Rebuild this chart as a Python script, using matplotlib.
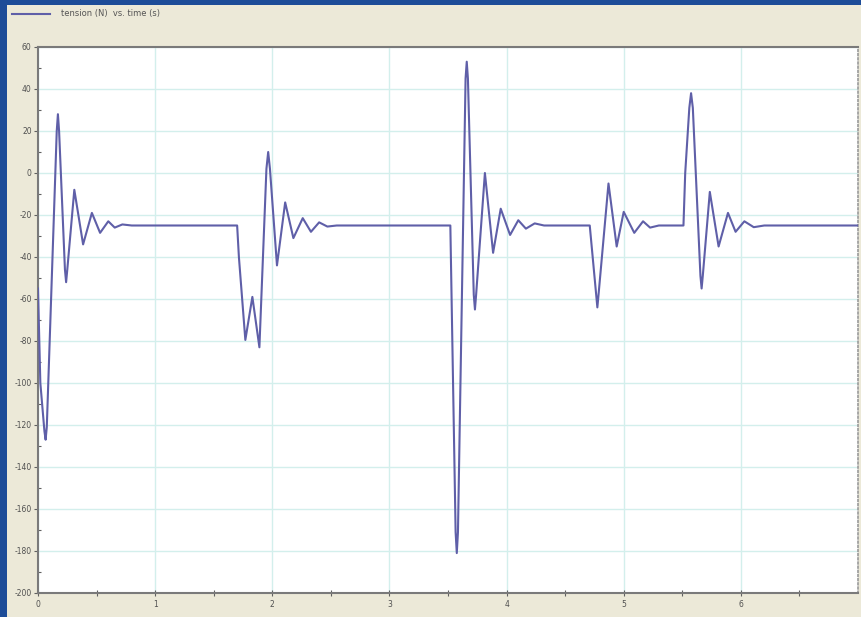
import matplotlib
matplotlib.use("Agg")
import matplotlib.pyplot as plt
from matplotlib.patches import Rectangle

plt.rcParams["axes.unicode_minus"] = False
plt.rcParams["font.family"] = ["DejaVu Sans"]

# Rope tension over time: each event gives a damped oscillation around -25 N
time_s = [
    0.00, 0.02, 0.055, 0.065, 0.075, 0.16, 0.17, 0.18, 0.23, 0.24, 0.25,
    0.31, 0.385, 0.46, 0.53, 0.60, 0.655, 0.72, 0.80,
    1.70, 1.715, 1.77, 1.83, 1.89, 1.95, 1.965, 1.98, 2.04, 2.11, 2.18, 2.26,
    2.33, 2.40, 2.47, 2.55,
    3.52, 3.565, 3.575, 3.585, 3.65, 3.66, 3.67, 3.72, 3.73, 3.74, 3.815,
    3.885, 3.95, 4.03, 4.10, 4.165, 4.24, 4.32,
    4.71, 4.765, 4.775, 4.785, 4.87, 4.94, 5.00, 5.09, 5.165, 5.225, 5.30,
    5.51, 5.525, 5.56, 5.575, 5.59, 5.655, 5.665, 5.675, 5.735, 5.81, 5.89,
    5.955, 6.03, 6.11, 6.20,
    7.00,
]
tension_n = [
    -55, -100, -123, -127, -121, 20, 28, 20, -46, -52, -46,
    -8, -34, -19, -28.5, -23, -26, -24.5, -25,
    -25, -40, -79.5, -59, -83, 2, 10, 2, -44, -14, -31, -21.5,
    -28, -23.5, -25.5, -25,
    -25, -171, -181, -171, 45, 53, 45, -58, -65, -58, 0,
    -38, -17, -29.5, -22.5, -26.5, -24, -25,
    -25, -58, -64, -58, -5, -35, -18.5, -28.5, -23, -26, -25,
    -25, 0, 31, 38, 31, -49, -55, -49, -9, -35, -19,
    -28, -23, -25.8, -25,
    -25,
]

y_ticks = list(range(60, -201, -20))
x_ticks = [0, 1, 2, 3, 4, 5, 6]
legend_text = "tension (N)  vs. time (s)"

W, H = 861, 617
fig = plt.figure(figsize=(W / 100, H / 100), dpi=100)
fig.patch.set_facecolor("#1d4c98")

# beige window panel behind the plot
fig.patches.append(Rectangle((7 / W, 0), 1 - 7 / W, 1 - 5 / H,
                             transform=fig.transFigure, facecolor="#ece9d8",
                             edgecolor="none", zorder=-5))

ax = fig.add_axes([38 / W, 1 - 593 / H, (858 - 38) / W, (593 - 47) / H])
ax.set_zorder(2)
ax.set_facecolor("white")

curve_color = "#5f5fa8"
line, = ax.plot(time_s, tension_n, color=curve_color, lw=1.5,
                solid_joinstyle="round", zorder=3)

ax.set_xlim(0, 7)
ax.set_ylim(-200, 60)
ax.set_xticks(x_ticks)
ax.set_xticks([0.5, 1.5, 2.5, 3.5, 4.5, 5.5, 6.5], minor=True)
ax.set_yticks(y_ticks)
ax.set_yticks(list(range(50, -200, -20)), minor=True)

ax.grid(True, which="major", color="#d3efec", lw=1.0, zorder=1)

ax.tick_params(axis="y", which="major", direction="out", length=3, width=0.8,
               color="#606060", labelsize=5.5, labelcolor="#505050", pad=1.5)
ax.tick_params(axis="y", which="minor", direction="in", length=2, width=0.8,
               color="#606060")
ax.tick_params(axis="x", which="both", direction="inout", length=4, width=0.8,
               color="#606060", labelsize=5.5, labelcolor="#505050", pad=3)

for side in ("left", "bottom", "top"):
    ax.spines[side].set_color("#7a7a7a")
    ax.spines[side].set_linewidth(1.5)
ax.spines["right"].set_color("#9a9a9a")
ax.spines["right"].set_linestyle((0, (1, 1.5)))
ax.spines["right"].set_linewidth(1.2)

# legend entry in the window's top strip
leg = fig.legend(handles=[line], labels=[legend_text], loc="upper left",
                 bbox_to_anchor=(4 / W, 1 - 2 / H), frameon=False, fontsize=6,
                 handlelength=4.6, handletextpad=1.4, labelcolor="#555555")
leg.set_zorder(3)

fig.savefig("out.png", dpi=100, facecolor=fig.get_facecolor())
